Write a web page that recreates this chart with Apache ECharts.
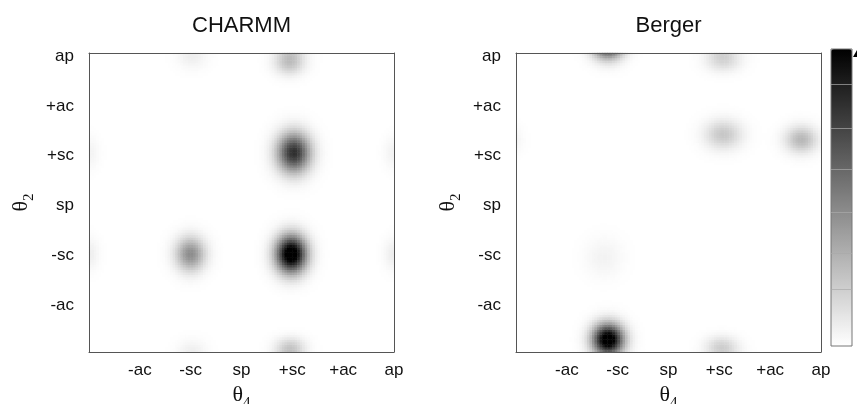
<!DOCTYPE html>
<html>
<head>
<meta charset="utf-8">
<script src="https://cdn.jsdelivr.net/npm/echarts@6/dist/echarts.min.js"></script>
<style>html,body{margin:0;padding:0;background:#fff}#c{width:857px;height:404px}</style>
</head>
<body>
<div id="c"></div>
<script>
// ---- data ----
const panelTitles = ['CHARMM', 'Berger'];
const tickAngles = [-120, -60, 0, 60, 120, 180];
const tickLabels = ['-ac', '-sc', 'sp', '+sc', '+ac', 'ap'];
// density peaks: [theta4, theta2, height, spread4, spread2] (degrees, periodic)
const charmmPeaks = [
  [59, -62, 1.15, 12.5, 15.5],
  [62, 60, 0.82, 13.5, 16.5],
  [-60, -62, 0.45, 12, 14],
  [57, 169, 0.25, 12, 10],
  [58, -173, 0.17, 12, 8],
  [-58, 178, 0.07, 12, 11],
  [180, -62, 0.07, 8, 13],
  [180, 60, 0.05, 8, 13]
];
const bergerPeaks = [
  [-71, -165, 1.15, 12.5, 13],
  [65, 171, 0.16, 14, 9],
  [63, -172, 0.16, 13, 8],
  [65, 82, 0.22, 15, 12],
  [157, 76, 0.28, 13, 11],
  [-76, -66, 0.05, 15, 16]
];
const colorbarMin = 0;
const colorbarMax = 1;

// ---- build heat cells from the peaks ----
const N = 120;
const STEP = 360 / N;
const cellCenters = Array.from({length: N}, (_, i) => -180 + STEP * (i + 0.5));
function wrap(d) { return ((d + 180) % 360 + 360) % 360 - 180; }
function density(peaks, a4, a2) {
  let v = 0;
  for (const [c4, c2, h, s4, s2] of peaks) {
    const d4 = wrap(a4 - c4), d2 = wrap(a2 - c2);
    v += h * Math.exp(-(d4 * d4) / (2 * s4 * s4) - (d2 * d2) / (2 * s2 * s2));
  }
  return Math.min(v, colorbarMax);
}
function buildCells(peaks) {
  const cells = [];
  for (let i = 0; i < N; i++)
    for (let j = 0; j < N; j++)
      cells.push([i, j, density(peaks, cellCenters[i], cellCenters[j])]);
  return cells;
}
const panelCells = [buildCells(charmmPeaks), buildCells(bergerPeaks)];
const cats = cellCenters.map((c, i) => i);

function labelFor(v) {
  const k = tickAngles.indexOf(Math.round(v));
  return k >= 0 ? tickLabels[k] : '';
}

const FONT = 'Liberation Sans, Arial, Helvetica, sans-serif';
const SERIF = 'Liberation Serif, DejaVu Serif, serif';
const nameRich = {
  t: {fontSize: 22, lineHeight: 22, fontFamily: SERIF, color: '#111', verticalAlign: 'top'},
  s: {fontSize: 15, lineHeight: 27, fontFamily: SERIF, color: '#111', verticalAlign: 'bottom'}
};
const gridLefts = [89, 516];
const gridW = 305, gridH = 299, gridTop = 53;
const frameColor = '#555';

const grids = [], xAxes = [], yAxes = [], series = [], titles = [];
panelTitles.forEach((title, p) => {
  grids.push({left: gridLefts[p], top: gridTop, width: gridW, height: gridH,
    containLabel: false, outerBoundsMode: 'none'});
  titles.push({
    text: title, left: gridLefts[p] + gridW / 2, textAlign: 'center', top: 15, padding: 0,
    textStyle: {fontSize: 22, fontWeight: 'normal', color: '#111', fontFamily: FONT}
  });
  const base = {gridIndex: p, min: -180, max: 180, interval: 60, type: 'value', z: 10,
    axisTick: {show: false}, splitLine: {show: false},
    axisLine: {show: true, onZero: false, lineStyle: {color: frameColor, width: 1}}};
  // category axes carrying the heat cells
  xAxes.push({type: 'category', gridIndex: p, data: cats, show: false});
  yAxes.push({type: 'category', gridIndex: p, data: cats, show: false});
  // labelled axes
  xAxes.push(Object.assign({}, base, {
    position: 'bottom',
    axisLabel: {margin: 10, fontSize: 17, color: '#111', fontFamily: FONT, formatter: labelFor},
    name: '{t|θ}{s|4}', nameLocation: 'middle', nameGap: 25,
    nameTextStyle: {rich: nameRich}
  }));
  yAxes.push(Object.assign({}, base, {
    position: 'left',
    axisLabel: {margin: 15, fontSize: 17, color: '#111', fontFamily: FONT, formatter: labelFor,
      verticalAlign: 'top', lineHeight: 6},
    name: '{t|θ}{s|2}', nameLocation: 'middle', nameGap: 52,
    nameTextStyle: {rich: nameRich}
  }));
  // frame on the opposite sides
  xAxes.push(Object.assign({}, base, {position: 'top', axisLabel: {show: false}}));
  yAxes.push(Object.assign({}, base, {position: 'right', axisLabel: {show: false}}));
  series.push({
    type: 'heatmap', name: title, xAxisIndex: 3 * p, yAxisIndex: 3 * p,
    data: panelCells[p], progressive: 0, animation: false,
    itemStyle: {borderWidth: 0}, emphasis: {disabled: true}, silent: true
  });
});

const cbLeft = 831, cbTop = 49, cbW = 21, cbH = 297;
const cbLines = [84, 128, 169, 212, 253, 289];
const graphics = [
  {type: 'rect', z: 100, shape: {x: cbLeft, y: cbTop, width: cbW, height: cbH},
   style: {fill: null, stroke: '#777', lineWidth: 1}},
  {type: 'polygon', z: 100, shape: {points: [[853, 57], [857, 50], [857, 57]]}, style: {fill: '#000'}}
].concat(cbLines.map(y => ({type: 'line', z: 100,
  shape: {x1: cbLeft, y1: y + 0.5, x2: cbLeft + cbW, y2: y + 0.5},
  style: {stroke: 'rgba(170,170,170,0.7)', lineWidth: 1}})));

const chart = echarts.init(document.getElementById('c'), null, {renderer: 'canvas'});
chart.setOption({
  animation: false,
  backgroundColor: '#fff',
  title: titles,
  grid: grids,
  xAxis: xAxes,
  yAxis: yAxes,
  visualMap: {
    type: 'continuous', min: colorbarMin, max: colorbarMax, seriesIndex: [0, 1],
    calculable: false, hoverLink: false, left: cbLeft, top: cbTop, padding: 0,
    itemWidth: cbW, itemHeight: cbH, orient: 'vertical',
    inRange: {color: ['#ffffff', '#000000']}
  },
  graphic: graphics,
  series: series
});
</script>
</body>
</html>
